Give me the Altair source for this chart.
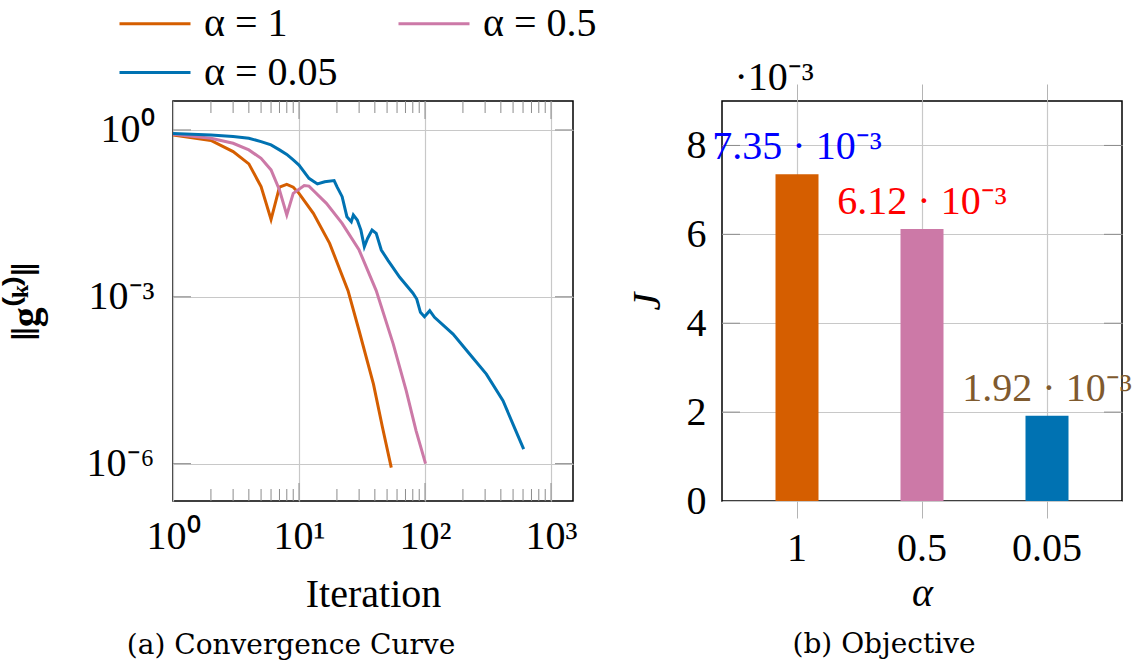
import altair as alt
import pandas as pd

SERIF = "Liberation Serif"
CAPTION_FONT = "DejaVu Serif"
GRID = "#c8c8c8"
TICK = "#8c8c8c"

# ---------------- (a) convergence curves ----------------
series_names = ["α = 1", "α = 0.5", "α = 0.05"]
series_colors = ["#D55E00", "#CC79A7", "#0072B2"]

iter_a1 = [1, 2, 3, 4, 5, 6, 7, 8, 9, 10, 13, 17.5, 24.5, 30, 39, 46, 54]
grad_a1 = [0.813, 0.646, 0.407, 0.245, 0.0955, 0.0245, 0.0933, 0.105, 0.0933,
           0.0724, 0.0316, 0.00912, 0.00129, 2.45e-4, 2.69e-5, 4.47e-6, 8.5e-7]

iter_a05 = [1, 2, 3, 4, 5, 6, 7, 8, 9, 11, 12, 13, 16.5, 22, 30, 41, 56, 71, 85, 101]
grad_a05 = [0.832, 0.708, 0.575, 0.437, 0.309, 0.191, 0.083, 0.0295, 0.0724,
            0.100, 0.0977, 0.0813, 0.0479, 0.0209, 0.00692, 0.00129, 1.41e-4,
            2.04e-5, 3.89e-6, 1.0e-6]

iter_a005 = [1, 2, 3, 4, 5, 6, 7, 8, 9, 10, 12, 14, 16, 19, 20, 22, 24, 26, 27,
             29, 31, 33, 35, 38, 41, 45, 51, 63, 80, 86, 92, 99, 109, 119, 167,
             226, 307, 416, 499, 607]
grad_a005 = [0.859, 0.813, 0.759, 0.708, 0.617, 0.537, 0.437, 0.363, 0.288,
             0.234, 0.135, 0.107, 0.117, 0.123, 0.0955, 0.0631, 0.0275, 0.0224,
             0.0295, 0.0240, 0.0158, 0.00794, 0.0112, 0.0158, 0.0138, 0.00692,
             0.00447, 0.00224, 0.00117, 9.12e-4, 5.25e-4, 4.37e-4, 5.62e-4,
             4.27e-4, 2.14e-4, 9.33e-5, 4.07e-5, 1.35e-5, 5.13e-6, 1.82e-6]

x_tick_values = [1, 10, 100, 1000]
y_tick_values = [1, 1e-3, 1e-6]
x_minor_mult = [2, 3, 4, 5, 6, 7, 8, 9]
x_decades = [1, 10, 100]

# ---------------- (b) objective ----------------
alpha_labels = ["1", "0.5", "0.05"]
J_values = [7.35e-3, 6.12e-3, 1.92e-3]
bar_colors = ["#D55E00", "#CC79A7", "#0072B2"]
value_label_colors = ["#0000FF", "#FF0000", "#7F5A2E"]
J_tick_values = [0, 0.002, 0.004, 0.006, 0.008]

# ---------------- tables ----------------
rows = []
for name, its, vals in zip(series_names, [iter_a1, iter_a05, iter_a005],
                           [grad_a1, grad_a05, grad_a005]):
    for k, (i, v) in enumerate(zip(its, vals)):
        rows.append({"series": name, "iter": i, "g": v, "k": k})
df_lines = pd.DataFrame(rows)

df_xmaj = pd.DataFrame({"iter": x_tick_values[1:]})
df_xmin = pd.DataFrame({"iter": [m * d for d in x_decades for m in x_minor_mult]})
df_ymaj = pd.DataFrame({"g": y_tick_values})

df_bars = pd.DataFrame({"alpha": alpha_labels, "J": J_values,
                        "bar_color": bar_colors, "label_color": value_label_colors})
df_jt = pd.DataFrame({"J": J_tick_values[1:]})

SUP = ("'10' + (round(log(datum.value)/LN10) < 0 ? '⁻' : '') + "
       "substring('⁰¹²³⁴⁵⁶⁷⁸⁹', abs(round(log(datum.value)/LN10)), "
       "abs(round(log(datum.value)/LN10)) + 1)")

common_axis = dict(domain=False, labelFont=SERIF, labelFontSize=40, labelColor="black",
                   titleFont=SERIF, titleFontSize=40, titleFontWeight="normal",
                   titleColor="black", gridColor=GRID, gridWidth=1.2, labelFlush=False)

x_log = alt.Scale(type="log", domain=[1, 1495], nice=False)
y_log = alt.Scale(type="log", domain=[2.13e-7, 3.31], nice=False)

ax_iter = alt.Axis(values=x_tick_values, labelExpr=SUP, ticks=False,
                   labelPadding=15, title="Iteration", titleY=105,
                   titleBaseline="alphabetic", grid=True, **common_axis)
g_axis_opts = dict(common_axis, titleFontWeight="bold")
ax_g = alt.Axis(values=y_tick_values, labelExpr=SUP, ticks=False,
                labelPadding=19, title="‖g⁽ᵏ⁾‖",
                titleX=-135, titleY=200, titleBaseline="alphabetic",
                grid=True, **g_axis_opts)

lines = alt.Chart(df_lines).mark_line(strokeWidth=3, clip=True).encode(
    x=alt.X("iter:Q", scale=x_log, axis=ax_iter),
    y=alt.Y("g:Q", scale=y_log, axis=ax_g),
    color=alt.Color("series:N", scale=alt.Scale(domain=series_names, range=series_colors),
                    legend=alt.Legend(orient="none", legendX=-39.5, legendY=-99,
                                      columns=2, title=None,
                                      symbolType="M-1.775,0H1.775",
                                      symbolSize=1600, symbolStrokeWidth=3,
                                      labelFont=SERIF, labelFontSize=40,
                                      labelColor="black", labelOffset=27.5,
                                      columnPadding=54, rowPadding=7, padding=0,
                                      labelLimit=400, direction="horizontal")),
    order="k:Q",
)

def xrule(df, y0, y1):
    return alt.Chart(df).mark_rule(color=TICK, strokeWidth=1).encode(
        x=alt.X("iter:Q", scale=x_log, axis=ax_iter), y=alt.value(y0), y2=alt.value(y1))

def grule(df, x0, x1):
    return alt.Chart(df).mark_rule(color=TICK, strokeWidth=1).encode(
        y=alt.Y("g:Q", scale=y_log, axis=ax_g), x=alt.value(x0), x2=alt.value(x1))

left = alt.layer(
    lines,
    xrule(df_xmin, 0, 12), xrule(df_xmin, 388, 400),
    xrule(df_xmaj, 0, 18), xrule(df_xmaj, 382, 400),
    grule(df_ymaj, 0, 18), grule(df_ymaj, 382, 400),
).properties(
    width=400, height=400,
    title=alt.TitleParams("(a) Convergence Curve", orient="bottom", anchor="middle",
                          font=CAPTION_FONT, fontSize=28, fontWeight="normal",
                          color="black", dx=-82, offset=18),
)

x_band = alt.Scale(domain=alpha_labels, paddingInner=0.656, paddingOuter=0.428)
y_lin = alt.Scale(domain=[0, 0.009], nice=False)

ax_J = alt.Axis(values=J_tick_values, labelExpr="'' + round(datum.value*1000)",
                ticks=False, labelPadding=16, grid=True, title="J",
                titleFontStyle="italic", titleX=-63, titleY=200,
                titleBaseline="alphabetic", **common_axis)

bars = alt.Chart(df_bars).mark_bar().encode(
    x=alt.X("alpha:N", scale=x_band, sort=alpha_labels,
            axis=alt.Axis(orient="bottom", labelAngle=0, tickSize=17, tickColor="#b4b4b4",
                          labelPadding=10, bandPosition=0.5, grid=True, title="α",
                          titleFontStyle="italic", titleY=104, titleBaseline="alphabetic",
                          **common_axis)),
    y=alt.Y("J:Q", scale=y_lin, axis=ax_J),
    color=alt.Color("bar_color:N", scale=None),
)

value_labels = alt.Chart(df_bars).transform_calculate(
    txt="format(datum.J * 1000, '.2f') + ' · 10⁻³'"
).mark_text(font=SERIF, fontSize=40, baseline="alphabetic", dy=-15).encode(
    x=alt.X("alpha:N", scale=x_band, sort=alpha_labels,
            axis=alt.Axis(orient="top", labels=False, tickSize=17, tickColor="#b4b4b4",
                          bandPosition=0.5, grid=False, title="·10⁻³",
                          titleAnchor="start", titleAlign="left", titleX=12, titleY=-12,
                          titleBaseline="alphabetic", **common_axis)),
    y=alt.Y("J:Q", scale=y_lin, axis=ax_J),
    text="txt:N",
    color=alt.Color("label_color:N", scale=None),
)

def jrule(x0, x1):
    return alt.Chart(df_jt).mark_rule(color=TICK, strokeWidth=1).encode(
        y=alt.Y("J:Q", scale=y_lin, axis=ax_J), x=alt.value(x0), x2=alt.value(x1))

right = alt.layer(
    bars, jrule(0, 18), jrule(382, 400), value_labels,
).resolve_axis(x="independent").properties(
    width=400, height=400,
    title=alt.TitleParams("(b) Objective", orient="bottom", anchor="middle",
                          font=CAPTION_FONT, fontSize=28, fontWeight="normal",
                          color="black", dx=-38, offset=18),
)

chart = alt.hconcat(left, right, spacing=149, bounds="flush").configure_view(
    stroke="black", strokeWidth=1.5
).properties(
    padding={"left": 5, "top": 2, "right": 0, "bottom": 0}, background="white"
)

chart.save("out.html", embed_options={"renderer": "svg", "actions": False})
